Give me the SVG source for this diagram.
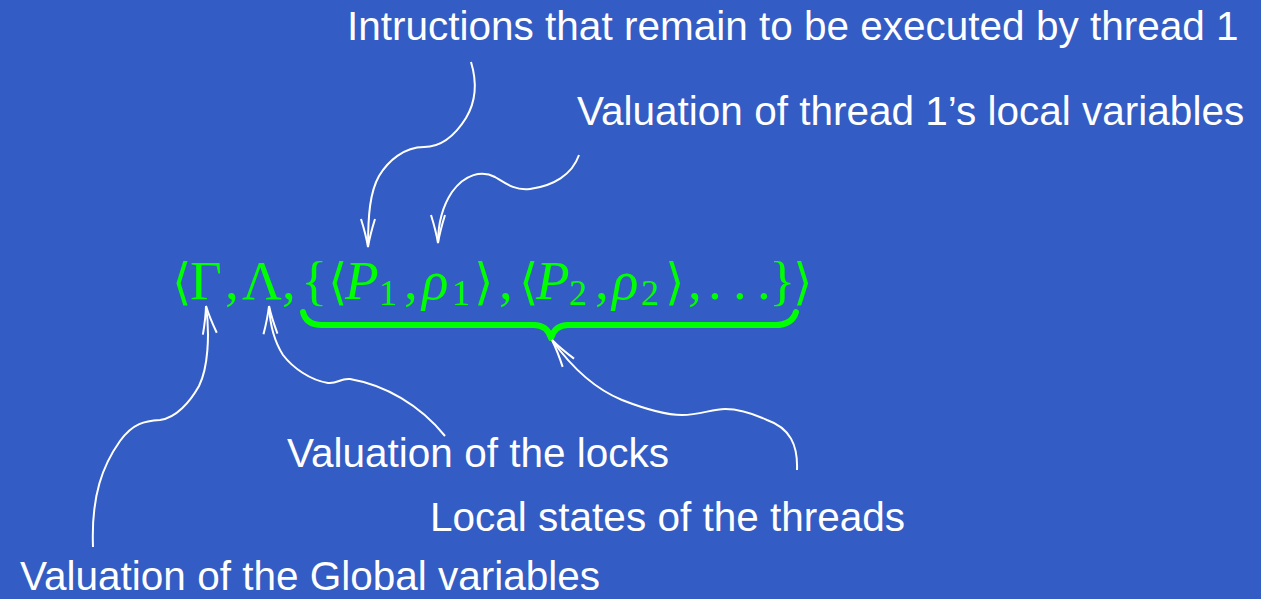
<svg xmlns="http://www.w3.org/2000/svg" width="1261" height="599" viewBox="0 0 1261 599">
<style>
.lbl{font-family:"Liberation Sans",Arial,sans-serif;font-size:40.5px;fill:#ffffff}
.f{font-family:"Liberation Serif","DejaVu Serif",serif;font-size:55px;fill:#00ff00}
.fi{font-style:italic}
.sub{font-size:36px}
.br{font-family:"DejaVu Sans","DejaVu Serif",sans-serif;font-size:50px;fill:#00ff00}
.arr{fill:none;stroke:#ffffff;stroke-width:2;marker-end:url(#ah)}
</style>
<defs>
<marker id="ah" markerUnits="userSpaceOnUse" markerWidth="40" markerHeight="24" viewBox="-32 -12 36 24" refX="0" refY="0" orient="auto">
<path d="M-28,-7 Q-12,-2 0,0 Q-12,2 -28,7" fill="none" stroke="#ffffff" stroke-width="2"/>
</marker>
</defs>
<rect width="1261" height="599" fill="#335cc4"/>
<g id="formula">
<text class="br" x="172" y="299">⟨</text>
<text class="f" x="190" y="299">Γ</text>
<text class="f" x="225" y="299">,</text>
<text class="f" x="242" y="299">Λ</text>
<text class="f" x="282" y="299">,</text>
<text class="f" x="301" y="299">{</text>
<text class="br" x="328" y="299">⟨</text>
<text class="f fi" x="345" y="299">P</text>
<text class="f sub" x="379" y="305">1</text>
<text class="f" x="404" y="299">,</text>
<text class="f fi" x="422" y="299">ρ</text>
<text class="f sub" x="452" y="305">1</text>
<text class="br" x="474" y="299">⟩</text>
<text class="f" x="499" y="299">,</text>
<text class="br" x="519" y="299">⟨</text>
<text class="f fi" x="536" y="299">P</text>
<text class="f sub" x="569" y="305">2</text>
<text class="f" x="595" y="299">,</text>
<text class="f fi" x="612" y="299">ρ</text>
<text class="f sub" x="641" y="305">2</text>
<text class="br" x="665" y="299">⟩</text>
<text class="f" x="688" y="299">,</text>
<text class="f" y="299"><tspan x="708">.</tspan><tspan x="733">.</tspan><tspan x="757">.</tspan></text>
<text class="f" x="769" y="299">}</text>
<text class="br" x="793" y="299">⟩</text>
</g>
<g id="brace">
<path d="M303,312 Q306,325 322,325 L534,325 Q547,325 551,338 Q555,325 568,325 L775,325 Q792,325 796,312" fill="none" stroke="#00ff00" stroke-width="6" stroke-linecap="round" stroke-linejoin="round"/>
</g>
<g id="label-instructions"><text class="lbl" x="347" y="40">Intructions that remain to be executed by thread 1</text></g>
<g id="label-local-vars"><text class="lbl" x="577" y="125">Valuation of thread 1’s local variables</text></g>
<g id="label-locks"><text class="lbl" x="287" y="467">Valuation of the locks</text></g>
<g id="label-local-states"><text class="lbl" x="430" y="531">Local states of the threads</text></g>
<g id="label-globals"><text class="lbl" x="20" y="590">Valuation of the Global variables</text></g>
<g id="connectors">
<path class="arr" d="M471,62 C478,85 475,103 466,118 C456,134 442,147 424,147 C404,147 388,161 379,176 C370,192 368,215 368,247"/>
<path class="arr" d="M579,155 C572,175 553,186 530,189 C515,191 505,183 495,177 C482,170 465,174 452,192 C442,207 438,225 438,243"/>
<path class="arr" d="M93,547 C91,495 103,465 120,441 C133,423 145,421 160,420 C176,418 190,402 199,386 C208,368 210,335 206,306"/>
<path class="arr" d="M445,436 C420,405 385,385 350,379 C340,378 338,384 328,383 C310,380 293,368 283,355 C274,341 270,325 269,306"/>
<path class="arr" d="M797,470 C798,445 790,428 767,420 C752,413 740,409 725,409 C712,409 700,415 682,415 C665,415 640,407 622,400 C600,391 575,372 552,340"/>
</g>
</svg>
